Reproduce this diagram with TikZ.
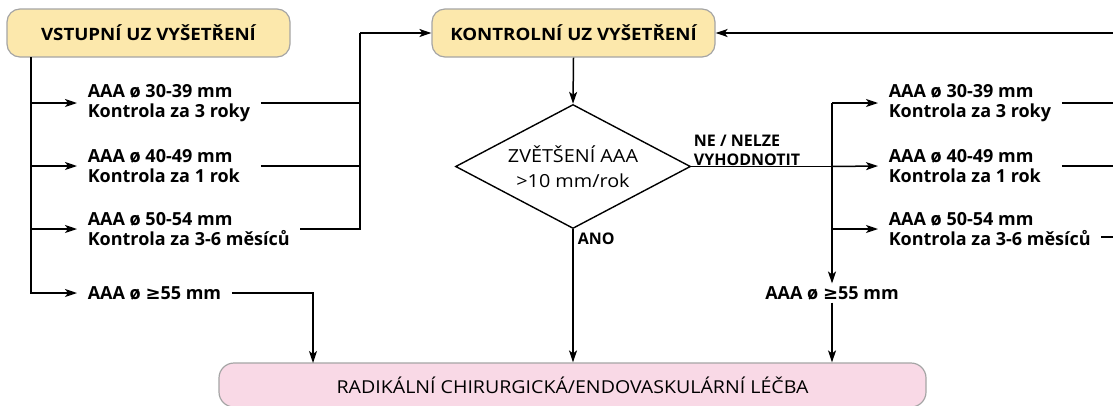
\documentclass[tikz,border=0pt]{standalone}
\usepackage{fontspec}
\setmainfont{Open Sans}
\newfontfamily\widefont{Open Sans}[FakeStretch=1.1]
\newfontfamily\symfont{DejaVu Sans}
\usetikzlibrary{shapes.geometric,arrows.meta,calc}

\definecolor{boxyellow}{RGB}{252,232,172}
\definecolor{boxpink}{RGB}{249,217,230}
\definecolor{boxline}{RGB}{165,165,165}

\newcommand{\gesign}{{\symfont ≥}}

\tikzset{
  exambox/.style={draw=boxline,fill=boxyellow,rounded corners=13pt,line width=1.2pt,
    minimum width=283pt,minimum height=48pt,font=\widefont\fontsize{17}{20}\selectfont\bfseries},
  treatbox/.style={draw=boxline,fill=boxpink,rounded corners=15pt,line width=1.2pt,
    minimum width=707pt,minimum height=44pt,font=\widefont\fontsize{17.8}{20}\selectfont},
  decision/.style={draw,diamond,line width=1.4pt,inner sep=0pt,aspect=1.9,
    minimum width=235pt,minimum height=124pt,align=center,
    font=\widefont\fontsize{18}{25}\selectfont},
  sizelbl/.style={align=left,inner xsep=10pt,inner ysep=2pt,
    font=\fontsize{18}{20.5}\selectfont\bfseries},
  smalllbl/.style={align=left,inner sep=1pt,font=\fontsize{16}{19}\selectfont\bfseries},
  arr/.style={-{Stealth[length=12pt,width=8pt,inset=3pt]}}
}

\begin{document}
\begin{tikzpicture}[x=1pt,y=-1pt,line width=1.5pt]

   \useasboundingbox (0,0) rectangle (1113,405);
   \clip (0,0) rectangle (1113,405);

   \node[exambox] (vstup) at (148.5,33) {VSTUPNÍ UZ VYŠETŘENÍ};
   \node[exambox] (kontr) at (573.5,33) {KONTROLNÍ UZ VYŠETŘENÍ};
   \node[treatbox] (lecba) at (572.5,385) {RADIKÁLNÍ CHIRURGICKÁ/ENDOVASKULÁRNÍ LÉČBA};
   \node[decision] (zvet) at (573,166.5) {ZVĚTŠENÍ AAA\\>10 mm/rok};

   % vstupni vysetreni
   \node[sizelbl,anchor=west] (l1) at (77,103) {AAA ø 30-39 mm\\Kontrola za 3 roky};
   \node[sizelbl,anchor=west] (l2) at (77,166) {AAA ø 40-49 mm\\Kontrola za 1 rok};
   \node[sizelbl,anchor=west] (l3) at (77,229) {AAA ø 50-54 mm\\Kontrola za 3-6 měsíců};
   \node[sizelbl,anchor=west] (l4) at (77,293) {AAA ø \gesign55 mm};

   \coordinate (vsdown) at (31,57);
   \coordinate (ljoin) at (360,33);
   \coordinate (ldown) at (313,363);

   \draw[arr] (vsdown) |- (l1.west);
   \draw[arr] (vsdown) |- (l2.west);
   \draw[arr] (vsdown) |- (l3.west);
   \draw[arr] (vsdown) |- (l4.west);
   \draw (l1.east) -| (ljoin);
   \draw (l1.east |- l2.east) -| (ljoin);
   \draw (l3.east) -| (ljoin);
   \draw[arr] (ljoin) -- (kontr.west);
   \draw[arr] (l4.east) -| (ldown);

   % kontrolni vysetreni
   \draw[arr] (kontr.south) -- (zvet.north);
   \draw[arr] (zvet.south) -- (zvet.south |- lecba.north);
   \node[smalllbl,anchor=north west] (ano) at ($(zvet.south)+(3,2)$) {ANO};
   \node[smalllbl,anchor=south west] (nene) at ($(zvet.east)+(1,1)$) {NE / NELZE\\VYHODNOTIT};

   \node[sizelbl,anchor=west] (r1) at (878,103) {AAA ø 30-39 mm\\Kontrola za 3 roky};
   \node[sizelbl,anchor=west] (r2) at (878,166) {AAA ø 40-49 mm\\Kontrola za 1 rok};
   \node[sizelbl,anchor=west] (r3) at (878,229) {AAA ø 50-54 mm\\Kontrola za 3-6 měsíců};
   \node[sizelbl] (r4) at (832,293) {AAA ø \gesign55 mm};

   \coordinate (rtop) at (832,103);
   \coordinate (rjoin) at (1125,33);

   \draw (zvet.east) -- (rtop |- zvet.east);
   \draw[arr] (rtop) -- (r1.west);
   \draw[arr] (rtop |- zvet.east) -- (r2.west);
   \draw[arr] (rtop |- r3.west) -- (r3.west);
   \draw[arr] (rtop) -- (r4.north);
   \draw[arr] (r4.south) -- (r4.south |- lecba.north);
   \draw (r1.east) -| (rjoin);
   \draw (r1.east |- r2.east) -| (rjoin);
   \draw ($(r3.east)+(0,8)$) -| (rjoin);
   \draw[arr] (rjoin) -- (kontr.east);

\end{tikzpicture}
\end{document}
